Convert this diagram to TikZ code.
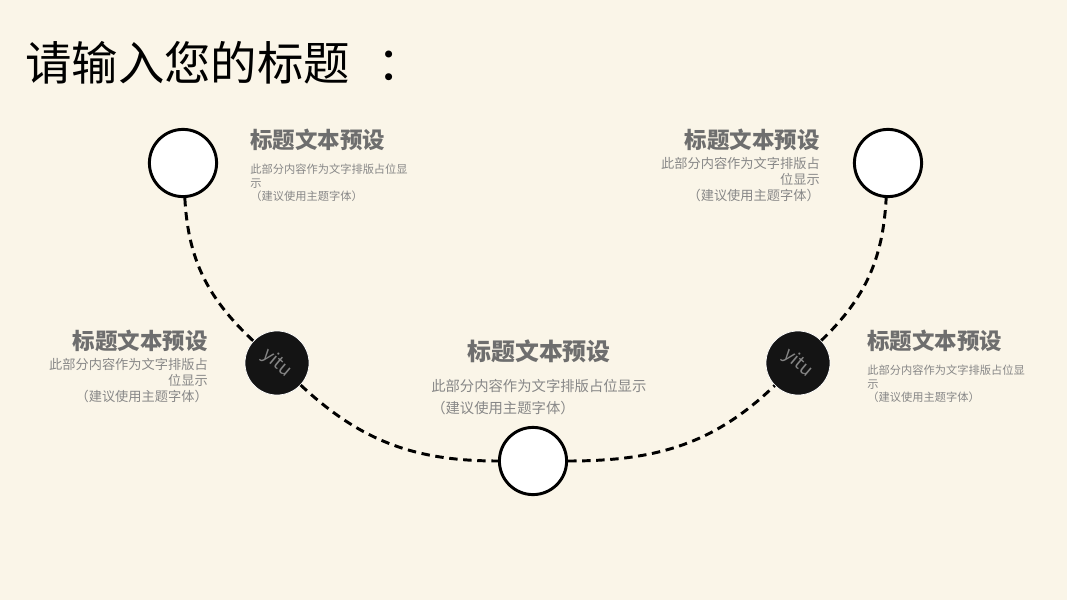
\documentclass[tikz,border=0pt]{standalone}
\usepackage{fontspec}
\setmainfont{Noto Sans CJK SC}
\usetikzlibrary{arrows}
\definecolor{bgcream}{rgb}{0.98,0.96,0.91}
\definecolor{headgray}{rgb}{0.43,0.43,0.43}
\definecolor{bodygray}{rgb}{0.53,0.53,0.53}
\definecolor{dotblack}{rgb}{0.08,0.08,0.08}
\definecolor{markgray}{rgb}{0.52,0.52,0.52}

\begin{document}
\begin{tikzpicture}[line cap=round,line join=round,x=1.0cm,y=1.0cm,
	hollow/.style={circle,draw=black,fill=white,line width=2.1pt,minimum size=1.68cm,inner sep=0pt},
	filleddot/.style={circle,fill=dotblack,draw=white,line width=0.5pt,minimum size=1.6cm,inner sep=0pt},
	track/.style={dash pattern=on 6pt off 4pt,line width=2.1pt,line cap=butt},
	heading/.style={font=\fontsize{16}{19}\selectfont\bfseries,text=headgray,inner sep=0pt},
	blurb/.style={font=\fontsize{8}{9.6}\selectfont,text=bodygray,inner sep=0pt},
	blurbwide/.style={font=\fontsize{9.4}{11.4}\selectfont,text=bodygray,inner sep=0pt},
	wmark/.style={rotate=-40,text=markgray,font=\fontsize{13}{14}\selectfont}]
	\useasboundingbox (0,0) rectangle (26.675,15);
	\fill[bgcream] (0,0) rectangle (26.675,15);
	% title
	\node[anchor=west,inner sep=0pt,font=\fontsize{33}{40}\selectfont,text=black] (title) at (0.625,13.425) {请输入您的标题\kern0.6em：};
	% circles on the track
	\node[hollow] (c1) at (4.575,10.925) {};
	\node[hollow] (c2) at (22.2,10.925) {};
	\node[filleddot] (m1) at (6.925,5.925) {};
	\node[filleddot] (m2) at (19.95,5.925) {};
	\node[hollow] (bot) at (13.325,3.475) {};
	\node[wmark] (y1) at (m1) {yitu};
	\node[wmark] (y2) at (m2) {yitu};
	% dashed track
	\draw[track] (c1) to[out=-87,in=137] (m1);
	\draw[track] (m1) to[out=-43,in=180] (bot);
	\draw[track] (bot) to[out=0,in=224] (m2);
	\draw[track] (m2) to[out=44,in=267] (c2);
	% texts
	\node[heading,anchor=west] (h1) at (6.25,11.5) {标题文本预设};
	\node[blurb,anchor=north west,align=left] (p1) at (6.25,10.9) {此部分内容作为文字排版占位显\\示\\（建议使用主题字体）};
	\node[heading,anchor=east] (h2) at (20.5,11.5) {标题文本预设};
	\node[blurbwide,anchor=north east,align=right] (p2) at (20.5,11.075) {此部分内容作为文字排版占\\位显示\\（建议使用主题字体）};
	\node[heading,anchor=east] (h3) at (5.2,6.475) {标题文本预设};
	\node[blurbwide,anchor=north east,align=right] (p3) at (5.2,6.05) {此部分内容作为文字排版占\\位显示\\（建议使用主题字体）};
	\node[heading,anchor=center,font=\fontsize{17}{20}\selectfont\bfseries] (h4) at (13.475,6.225) {标题文本预设};
	\node[anchor=north west,align=left,inner sep=0pt,text=bodygray,font=\fontsize{10.2}{15.6}\selectfont] (p4) at (10.775,5.525) {此部分内容作为文字排版占位显示\\（建议使用主题字体）};
	\node[heading,anchor=west] (h5) at (21.675,6.475) {标题文本预设};
	\node[blurb,anchor=north west,align=left] (p5) at (21.675,5.875) {此部分内容作为文字排版占位显\\示\\（建议使用主题字体）};
\end{tikzpicture}
\end{document}
